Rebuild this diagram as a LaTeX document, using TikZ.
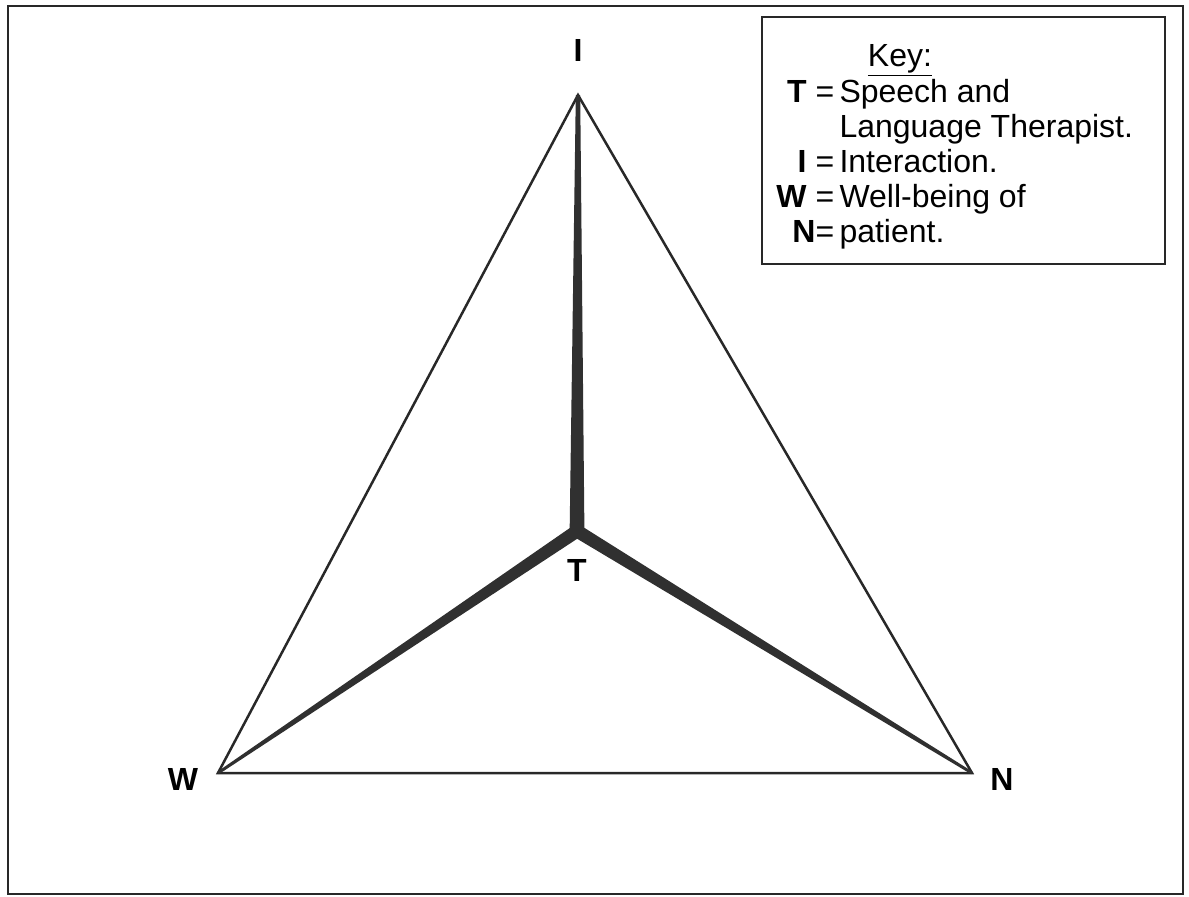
\documentclass[tikz,border=0pt]{standalone}
\usepackage{fontspec}
\setmainfont{Liberation Sans}
\usepackage{tikz}
\usetikzlibrary{calc, positioning}
\definecolor{SpokeGrey}{RGB}{48, 48, 48}
\definecolor{FrameGrey}{RGB}{40, 40, 40}
\tikzset{
  corner/.style={font=\fontsize{16}{16}\selectfont\bfseries, inner sep=0pt},
  keytext/.style={font=\fontsize{16}{17.5}\selectfont, inner sep=0pt},
  spoke/.style={fill=SpokeGrey},
  side/.style={line width=1.25pt, FrameGrey, line join=miter}
}

\begin{document}
\begin{tikzpicture}[x=0.5pt, y=-0.5pt]
    \useasboundingbox (0,0) rectangle (1189,896);

    % Frame
    \draw[line width=1.3pt, FrameGrey] (8,6) rectangle (1183,894);

    % Corners and centre
    \coordinate (I) at (578,95);
    \coordinate (W) at (218,773);
    \coordinate (N) at (972,773);
    \coordinate (T) at (577,531);

    % Triangle
    \draw[side] (I) -- (W) -- (N) -- cycle;

    % Spokes, wide at T and thin at the corners
    \foreach \c/\hT/\hC in {I/3.7pt/1.1pt, W/3.3pt/0.7pt, N/3.3pt/0.7pt} {
      \coordinate (\c a1) at ($(T)!\hT!90:(\c)$);
      \coordinate (\c a2) at ($(\c)!\hC!-90:(T)$);
      \coordinate (\c b1) at ($(T)!\hT!-90:(\c)$);
      \coordinate (\c b2) at ($(\c)!\hC!90:(T)$);
    }
    \coordinate (jl) at (intersection of Ia1--Ia2 and Wb1--Wb2);
    \coordinate (jr) at (intersection of Ib1--Ib2 and Na1--Na2);
    \coordinate (jb) at (intersection of Nb1--Nb2 and Wa1--Wa2);
    \fill[spoke] (Ia2) -- (Ib2) -- (jr) -- (Na2) -- (Nb2) -- (jb)
                 -- (Wa2) -- (Wb2) -- (jl) -- cycle;

    % Corner labels
    \node[corner] (Ilab) at (578,50) {I};
    \node[corner] (Wlab) at (183,779) {W};
    \node[corner] (Nlab) at (1002,779) {N};
    \node[corner] (Tlab) at (577,570) {T};

    % Key
    \draw[line width=1pt, FrameGrey] (762,17) rectangle (1165,264);
    \node[keytext, anchor=base] (keyhead) at (900,66) {\underline{Key:}};
    \node[keytext, anchor=base west] (keylist) at (776,102) {%
      \begin{tabular}[t]{@{}r@{\,}l@{}}
        \textbf{T} = & Speech and\\
                     & Language Therapist.\\
        \textbf{I} = & Interaction.\\
        \textbf{W} = & Well-being of\\
        \textbf{N}=  & patient.
      \end{tabular}};
\end{tikzpicture}
\end{document}
